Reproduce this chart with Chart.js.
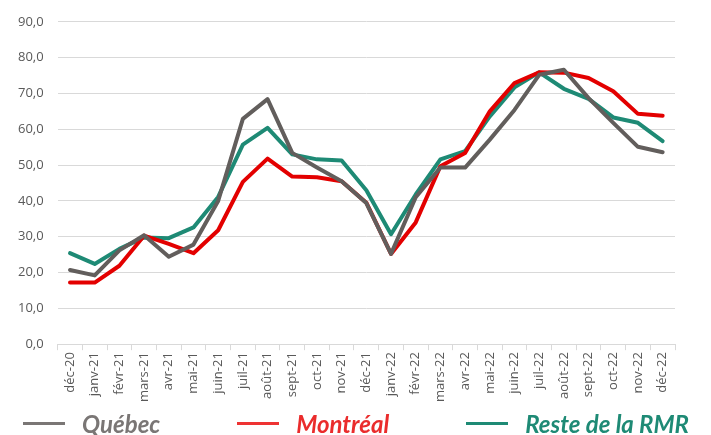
<!DOCTYPE html>
<html lang="fr">
<head>
<meta charset="utf-8">
<script src="https://cdn.jsdelivr.net/npm/chart.js@4"></script>
<style>
  html, body { margin: 0; padding: 0; background: #ffffff; }
  #wrap { width: 711px; height: 435px; position: relative; }
  #legende {
    position: absolute; left: 23px; top: 409px; height: 28px;
    display: flex; align-items: center;
    font-family: Lato, 'Open Sans', sans-serif; font-size: 24px; font-weight: bold; font-style: italic;
    white-space: nowrap;
  }
  #legende .item { display: flex; align-items: center; margin-right: 77px; }
  #legende .trait { width: 42px; height: 3px; margin-right: 17px; }
</style>
</head>
<body>
<div id="wrap"><canvas id="taux"></canvas><div id="legende"></div></div>
<script>
const mois = ['déc-20', 'janv-21', 'févr-21', 'mars-21', 'avr-21', 'mai-21', 'juin-21', 'juil-21',
    'août-21', 'sept-21', 'oct-21', 'nov-21', 'déc-21', 'janv-22', 'févr-22', 'mars-22', 'avr-22',
    'mai-22', 'juin-22', 'juil-22', 'août-22', 'sept-22', 'oct-22', 'nov-22', 'déc-22'];

const quebec = [20.7, 19.2, 26.2, 30.4, 24.4, 27.8, 40.0, 62.9, 68.4, 53.4, 49.3, 45.5, 39.4,
    25.2, 41.0, 49.3, 49.3, 57.1, 65.4, 75.2, 76.6, 68.7, 61.8, 55.1, 53.6];

const montreal = [17.2, 17.2, 21.9, 30.3, 28.0, 25.4, 31.8, 45.3, 51.8, 46.8, 46.6, 45.5, 39.5,
    25.2, 34.0, 49.7, 53.4, 65.0, 72.9, 75.9, 75.8, 74.3, 70.6, 64.3, 63.8];

const resteRmr = [25.4, 22.4, 26.6, 29.8, 29.6, 32.6, 41.1, 55.7, 60.4, 53.0, 51.6, 51.3, 43.0,
    30.7, 41.8, 51.6, 53.9, 63.6, 71.7, 75.9, 71.3, 68.5, 63.3, 61.8, 56.7];

const series = ['Québec', 'Montréal', 'Reste de la RMR'];
const couleurs = ['#625e5c', '#e30000', '#1e8a75'];
const couleursTexte = ['#7a7675', '#ea2c2c', '#1e8a75'];
const couleursTrait = ['#7a7675', '#ee3333', '#1e8a75'];

const yMin = 0;
const yMax = 90;
const yPas = 10;

const grille = '#d9d9d9';
const texte = '#595959';

function serie(label, data, i) {
    return {
        label: label,
        data: data,
        borderColor: couleurs[i],
        backgroundColor: couleurs[i],
        borderWidth: 4,
        pointRadius: 0,
        tension: 0,
        fill: false,
        borderJoinStyle: 'round',
        borderCapStyle: 'round'
    };
}

// legende HTML, construite a partir des datasets
const legendeHtml = {
    id: 'legendeHtml',
    afterUpdate(chart) {
        const box = document.getElementById('legende');
        box.innerHTML = '';
        chart.data.datasets.forEach((ds, i) => {
            const item = document.createElement('div');
            item.className = 'item';
            const trait = document.createElement('span');
            trait.className = 'trait';
            trait.style.background = couleursTrait[i];
            const lib = document.createElement('span');
            lib.textContent = ds.label;
            lib.style.color = couleursTexte[i];
            item.appendChild(trait);
            item.appendChild(lib);
            box.appendChild(item);
        });
    }
};

new Chart(document.getElementById('taux'), {
    type: 'line',
    data: {
        labels: mois,
        datasets: [
            serie(series[0], quebec, 0),
            serie(series[1], montreal, 1),
            serie(series[2], resteRmr, 2)
        ]
    },
    options: {
        responsive: true,
        maintainAspectRatio: false,
        animation: false,
        layout: { padding: { left: 4, right: 36, top: 12, bottom: 31 } },
        scales: {
            x: {
                offset: true,
                grid: {
                    offset: true,
                    drawOnChartArea: false,
                    color: grille,
                    tickLength: 6
                },
                border: { color: grille, width: 1 },
                ticks: {
                    autoSkip: false,
                    minRotation: 90,
                    maxRotation: 90,
                    padding: 2,
                    color: texte,
                    font: { family: 'Open Sans', size: 13 }
                }
            },
            y: {
                min: yMin,
                max: yMax,
                grid: { color: grille, drawTicks: false },
                border: { display: false },
                ticks: {
                    stepSize: yPas,
                    padding: 14,
                    color: texte,
                    font: { family: 'Open Sans', size: 13 },
                    callback: v => v.toFixed(1).replace('.', ',')
                }
            }
        },
        plugins: {
            legend: { display: false },
            tooltip: { enabled: false }
        }
    },
    plugins: [legendeHtml]
});
</script>
</body>
</html>
